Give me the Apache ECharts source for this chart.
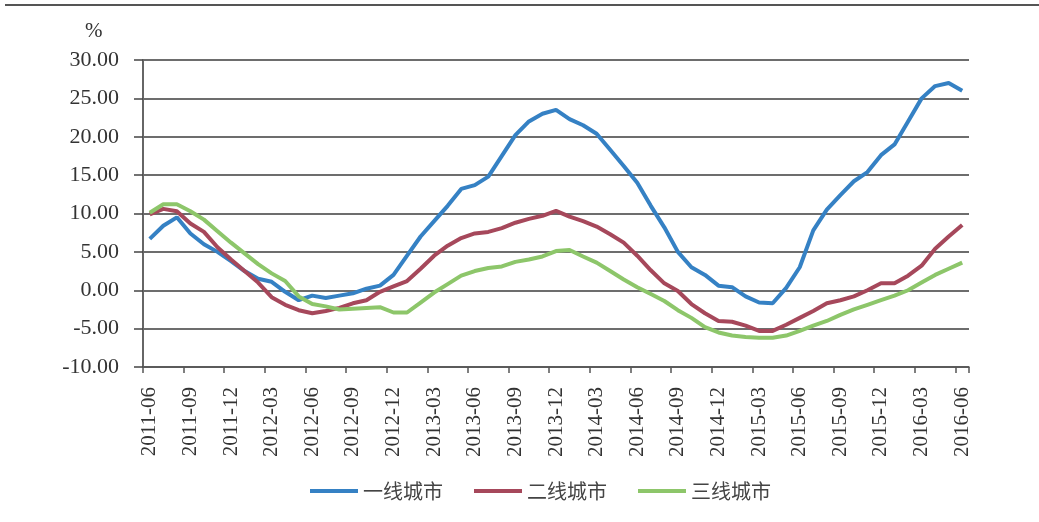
<!DOCTYPE html>
<html>
<head>
<meta charset="utf-8">
<script src="https://cdn.jsdelivr.net/npm/echarts@6/dist/echarts.min.js"></script>
<style>
html,body{margin:0;padding:0;background:#fff;}
#chart{width:1039px;height:522px;}
</style>
</head>
<body>
<div id="chart"></div>
<script>
// Categories: monthly, 2011-06 .. 2016-06
var startYear = 2011, startMonth = 6, monthCount = 61;
var categories = [];
for (var k = 0; k < monthCount; k++) {
  var m = startMonth - 1 + k;
  var yy = startYear + Math.floor(m / 12);
  var mm = (m % 12) + 1;
  categories.push(yy + '-' + (mm < 10 ? '0' + mm : '' + mm));
}

var seriesNames = ['一线城市', '二线城市', '三线城市'];

var tier1 = [6.7, 8.4, 9.5, 7.4, 6.0, 5.0, 3.8, 2.5, 1.5, 1.1,
  -0.2, -1.3, -0.7, -1.0, -0.7, -0.4, 0.2, 0.6, 2.0, 4.5,
  7.0, 9.0, 11.0, 13.2, 13.7, 14.8, 17.5, 20.2, 22.0, 23.0,
  23.5, 22.3, 21.5, 20.4, 18.3, 16.2, 14.0, 11.0, 8.2, 5.0,
  3.0, 2.0, 0.6, 0.4, -0.8, -1.6, -1.7, 0.3, 3.0, 7.8,
  10.5, 12.4, 14.2, 15.4, 17.6, 19.0, 22.0, 25.0, 26.6, 27.0, 26.0];

var tier2 = [9.9, 10.6, 10.3, 8.7, 7.6, 5.6, 4.0, 2.5, 1.0, -0.9,
  -1.9, -2.6, -3.0, -2.7, -2.3, -1.7, -1.3, -0.2, 0.5, 1.2,
  2.8, 4.5, 5.8, 6.8, 7.4, 7.6, 8.1, 8.8, 9.3, 9.7,
  10.35, 9.6, 9.0, 8.3, 7.3, 6.2, 4.5, 2.6, 0.9, -0.1,
  -1.8, -3.0, -4.0, -4.1, -4.6, -5.3, -5.3, -4.5, -3.6, -2.7,
  -1.7, -1.3, -0.8, 0.0, 0.9, 0.9, 1.9, 3.2, 5.4, 7.0, 8.5];

var tier3 = [10.1, 11.2, 11.2, 10.3, 9.2, 7.7, 6.2, 4.8, 3.4, 2.2,
  1.2, -0.8, -1.8, -2.1, -2.5, -2.4, -2.3, -2.2, -2.9, -2.9,
  -1.6, -0.3, 0.8, 1.9, 2.5, 2.9, 3.1, 3.7, 4.0, 4.4,
  5.1, 5.25, 4.4, 3.6, 2.5, 1.4, 0.4, -0.5, -1.4, -2.6,
  -3.6, -4.8, -5.5, -5.9, -6.1, -6.2, -6.2, -5.9, -5.3, -4.6,
  -4.0, -3.2, -2.5, -1.9, -1.3, -0.7, 0.0, 1.0, 2.0, 2.8, 3.6];

var yMin = -10, yMax = 30, yStep = 5;
var unitLabel = '%';

var colors = ['#3581c4', '#a6485b', '#8dc66a'];
var serif = '"Liberation Serif", "Times New Roman", serif';

var chart = echarts.init(document.getElementById('chart'), null, {renderer: 'canvas'});

function line(name, data, color) {
  return {
    name: name,
    type: 'line',
    data: data,
    showSymbol: false,
    symbol: 'none',
    smooth: false,
    lineStyle: {color: color, width: 4},
    itemStyle: {color: color},
    z: 3
  };
}

chart.setOption({
  animation: false,
  backgroundColor: '#ffffff',
  color: colors,
  title: {
    text: unitLabel,
    left: 80,
    top: 16,
    textStyle: {fontFamily: serif, fontSize: 21, fontWeight: 'normal', color: '#333'}
  },
  grid: {left: 143, right: 70, top: 60, bottom: 155, containLabel: false},
  legend: {
    data: seriesNames,
    left: 305,
    top: 476,
    icon: 'rect',
    itemWidth: 48,
    itemHeight: 4,
    itemGap: 31,
    textStyle: {fontFamily: '"Noto Sans CJK SC", sans-serif', fontSize: 20, color: '#444'}
  },
  xAxis: {
    type: 'category',
    data: categories,
    boundaryGap: true,
    axisLine: {onZero: false, lineStyle: {color: '#555', width: 1.5}},
    axisTick: {show: true, interval: 2, alignWithLabel: false, length: 6, lineStyle: {color: '#555', width: 1.5}},
    axisLabel: {
      interval: 2,
      rotate: 90,
      margin: 20,
      fontFamily: serif,
      fontSize: 21,
      color: '#333'
    },
    splitLine: {show: false}
  },
  yAxis: {
    type: 'value',
    min: yMin,
    max: yMax,
    interval: yStep,
    axisLine: {show: true, lineStyle: {color: '#666', width: 2}},
    axisTick: {show: true, inside: false, length: 9, lineStyle: {color: '#444', width: 1.5}},
    axisLabel: {
      margin: 24,
      fontFamily: serif,
      fontSize: 22,
      color: '#333',
      formatter: function (v) { return v.toFixed(2); }
    },
    splitLine: {show: true, lineStyle: {color: '#3d3d3d', width: 1.5}}
  },
  graphic: [{
    type: 'line',
    shape: {x1: 5, y1: 5, x2: 1039, y2: 5},
    style: {stroke: '#555', lineWidth: 2}
  }],
  series: [
    line(seriesNames[0], tier1, colors[0]),
    line(seriesNames[1], tier2, colors[1]),
    line(seriesNames[2], tier3, colors[2])
  ]
});
</script>
</body>
</html>
